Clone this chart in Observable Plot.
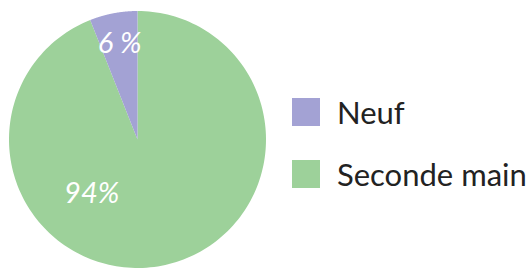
<!DOCTYPE html>
<html><head><meta charset="utf-8">
<script src="https://cdn.jsdelivr.net/npm/d3@7"></script>
<script src="https://cdn.jsdelivr.net/npm/@observablehq/plot@0.6"></script>
<style>
html,body{margin:0;padding:0;background:#fff;}
#wrap{position:relative;width:530px;height:268px;font-family:Lato,sans-serif;}
#legend{position:absolute;left:292px;top:98px;}
.item{display:flex;align-items:center;height:28px;margin-bottom:34px;font-size:31px;color:#222;}
.sw{width:28px;height:28px;margin-right:17px;}
</style></head>
<body><div id="wrap"><div id="legend"></div></div>
<script>
const categories = ["Seconde main", "Neuf"];
const values = [94, 6];
const labels = ["94%", "6 %"];
const colors = ["#9dd19a", "#a3a2d4"];
const legendOrder = ["Neuf", "Seconde main"];

// label placement (polar: angle in degrees clockwise from top, radius fraction)
const labelPlace = [{angle: 220.4, r: 0.55}, {angle: 349.5, r: 0.76}];

const pie = d3.pie().sort(null).value(d => d)(values);
const pts = [];
pie.forEach((s, i) => {
  const n = 200;
  pts.push({cat: categories[i], x: 0, y: 0});
  for (let k = 0; k <= n; k++) {
    const a = s.startAngle + (s.endAngle - s.startAngle) * k / n;
    pts.push({cat: categories[i], x: Math.sin(a), y: Math.cos(a)});
  }
  pts.push({cat: categories[i], x: 0, y: 0});
});
const lab = labels.map((t, i) => {
  const a = labelPlace[i].angle * Math.PI / 180;
  return {t, x: Math.sin(a) * labelPlace[i].r, y: Math.cos(a) * labelPlace[i].r};
});

const cx = 137, cy = 139, R = 128.5, W = 530, H = 268;
const chart = Plot.plot({
  width: W, height: H,
  marginLeft: cx - R, marginRight: W - (cx + R),
  marginTop: cy - R, marginBottom: H - (cy + R),
  x: {domain: [-1, 1], axis: null},
  y: {domain: [-1, 1], axis: null},
  color: {domain: categories, range: colors},
  style: {fontFamily: "Lato, sans-serif", background: "#fff"},
  marks: [
    Plot.line(pts, {x: "x", y: "y", z: "cat", fill: "cat", stroke: "none", curve: "linear"}),
    Plot.text(lab, {x: "x", y: "y", text: "t", fill: "white", fontSize: 29, fontStyle: "italic", fontWeight: 400, textAnchor: "middle"})
  ]
});
document.getElementById("wrap").prepend(chart);
const cs = chart.scale("color");
const lg = document.getElementById("legend");
legendOrder.forEach(c => {
  const d = document.createElement("div"); d.className = "item";
  const sw = document.createElement("div"); sw.className = "sw"; sw.style.background = cs.apply(c);
  const t = document.createElement("span"); t.textContent = c;
  d.append(sw, t); lg.append(d);
});
</script></body></html>
